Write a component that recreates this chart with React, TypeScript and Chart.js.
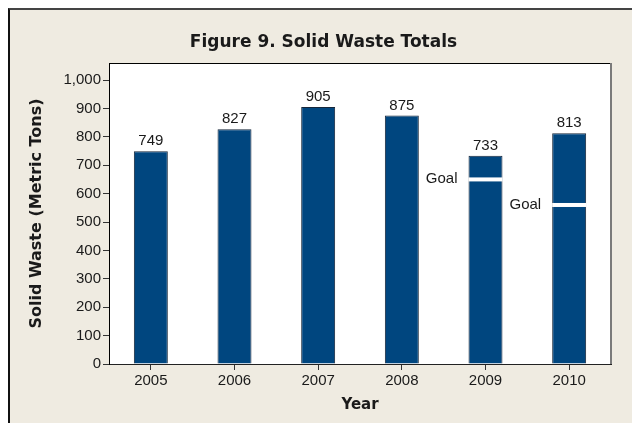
import React, { useEffect, useRef } from "react";
import { Chart, registerables } from "chart.js";

Chart.register(...registerables);

const years = ["2005", "2006", "2007", "2008", "2009", "2010"];
const totals = [749, 827, 905, 875, 733, 813];
const goals: (number | null)[] = [null, null, null, null, 650, 560];
const yTickStep = 100;
const yMin = 0;
const yMax = 1060;

const SANS = '"Liberation Sans", Arial, sans-serif';
const BOLD = '"DejaVu Sans", Verdana, sans-serif';
const BG = "#EFEBE1";
const BAR = "#00467F";
const BAR_EDGE = "#16263A";
const TEXT = "#1a1a1a";

const plotFrame = {
  id: "plotFrame",
  beforeDraw(chart: any) {
    const { ctx, chartArea: a } = chart;
    ctx.save();
    ctx.fillStyle = "#ffffff";
    ctx.fillRect(a.left, a.top, a.right - a.left, a.bottom - a.top);
    ctx.restore();
  },
  afterDraw(chart: any) {
    const { ctx, chartArea: a } = chart;
    ctx.save();
    ctx.strokeStyle = "#000000";
    ctx.lineWidth = 1;
    ctx.beginPath();
    ctx.moveTo(a.left, a.top + 0.5);
    ctx.lineTo(a.right, a.top + 0.5);
    ctx.stroke();
    ctx.strokeStyle = "#7a7a7a";
    ctx.lineWidth = 2;
    ctx.beginPath();
    ctx.moveTo(a.right, a.top);
    ctx.lineTo(a.right, a.bottom);
    ctx.stroke();
    ctx.restore();
  },
};

const barLabels = {
  id: "barLabels",
  afterDatasetsDraw(chart: any) {
    const { ctx } = chart;
    const meta = chart.getDatasetMeta(0);
    const yScale = chart.scales.y;
    ctx.save();
    ctx.font = `15px ${SANS}`;
    ctx.textBaseline = "alphabetic";
    meta.data.forEach((bar: any, i: number) => {
      ctx.fillStyle = TEXT;
      ctx.textAlign = "center";
      ctx.fillText(String(totals[i]), bar.x, bar.y - 6);
      const g = goals[i];
      if (g != null) {
        const gy = yScale.getPixelForValue(g);
        const half = bar.width / 2;
        ctx.fillStyle = "#ffffff";
        ctx.fillRect(bar.x - half, gy - 2, bar.width, 4);
        ctx.fillStyle = TEXT;
        ctx.textAlign = "right";
        ctx.fillText("Goal", bar.x - half - 11, gy + 4);
      }
    });
    ctx.restore();
  },
};

export default function App() {
  const ref = useRef<HTMLCanvasElement | null>(null);

  useEffect(() => {
    if (!ref.current) return;
    const chart = new Chart(ref.current, {
      type: "bar",
      data: {
        labels: years,
        datasets: [
          {
            data: totals,
            backgroundColor: BAR,
            borderColor: BAR_EDGE,
            borderWidth: 1,
            barPercentage: 0.406,
            categoryPercentage: 1,
          },
        ],
      },
      plugins: [plotFrame, barLabels],
      options: {
        responsive: false,
        animation: false,
        devicePixelRatio: 1,
        locale: "en-US",
        layout: { padding: { left: 26, right: 21, top: 0, bottom: 0 } },
        plugins: {
          legend: { display: false },
          tooltip: { enabled: false },
          title: {
            display: true,
            text: "Figure 9. Solid Waste Totals",
            color: TEXT,
            font: { family: BOLD, size: 17, weight: "bold" },
            padding: { top: 22.8, bottom: 9.8 },
          },
        },
        scales: {
          x: {
            type: "category",
            offset: true,
            grid: {
              display: true,
              offset: false,
              drawOnChartArea: false,
              drawTicks: true,
              tickLength: 6,
              color: "#333333",
            },
            border: { display: true, color: "#222222", width: 1 },
            ticks: {
              color: TEXT,
              padding: 2,
              font: { family: SANS, size: 15 },
            },
            title: {
              display: true,
              text: "Year",
              color: TEXT,
              font: { family: BOLD, size: 15, weight: "bold" },
              padding: { top: 0, bottom: 9 },
            },
            afterFit(scale: any) {
              scale.height = 59;
            },
          },
          y: {
            type: "linear",
            min: yMin,
            max: yMax,
            grid: {
              display: true,
              drawOnChartArea: false,
              drawTicks: true,
              tickLength: 6,
              color: "#333333",
            },
            border: { display: true, color: "#000000", width: 1 },
            ticks: {
              stepSize: yTickStep,
              includeBounds: false,
              color: TEXT,
              padding: 2,
              font: { family: SANS, size: 15 },
            },
            title: {
              display: true,
              text: "Solid Waste (Metric Tons)",
              color: TEXT,
              font: { family: BOLD, size: 16, weight: "bold" },
              padding: { top: -9, bottom: 0 },
            },
            afterFit(scale: any) {
              scale.width = 73;
            },
          },
        },
      },
    } as any);
    return () => chart.destroy();
  }, []);

  return (
    <div
      style={{
        position: "fixed",
        left: 0,
        top: 0,
        width: 632,
        height: 423,
        overflow: "hidden",
        background: "#ffffff",
      }}
    >
      <div
        style={{
          position: "absolute",
          left: 8,
          top: 8,
          width: 624,
          height: 415,
          background: BG,
          borderTop: "2px solid #444444",
          borderLeft: "2px solid #111111",
          boxSizing: "border-box",
        }}
      >
        <canvas
          ref={ref}
          width={622}
          height={413}
          style={{ display: "block", width: 622, height: 413 }}
        />
      </div>
    </div>
  );
}
